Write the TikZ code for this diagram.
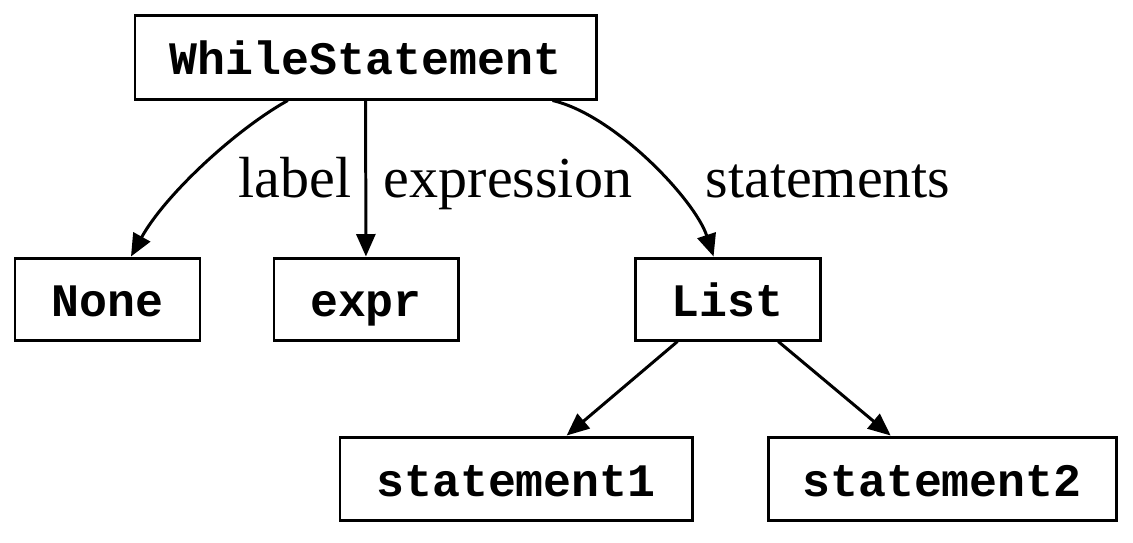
\documentclass[tikz,border=0pt]{standalone}
\usepackage{fontspec}
\setmainfont{Liberation Serif}
\setmonofont{Liberation Mono}
\usepackage{tikz}
\usetikzlibrary{arrows.meta}

\begin{document}
\begin{tikzpicture}[
  box/.style={draw, line width=1.7pt, minimum height=1.68cm, inner sep=0pt, align=center,
    text height=0.7cm, text depth=0pt,
    font=\fontsize{26.5}{30}\selectfont\ttfamily\bfseries},
  lbl/.style={anchor=base, inner sep=0pt, font=\fontsize{33}{38}\selectfont},
  arrow/.style={-{Triangle[length=0.45cm, width=0.38cm]}, line width=1.7pt}
]
  \useasboundingbox (0,0) rectangle (22.66,-10.84);

  \node[box, minimum width=9.22cm] (while) at (7.31,-1.14) {WhileStatement};
  \node[box, minimum width=3.70cm, minimum height=1.64cm] (none) at (2.15,-5.98) {None};
  \node[box, minimum width=3.68cm, minimum height=1.64cm] (expr) at (7.32,-5.98) {expr};
  \node[box, minimum width=3.70cm, minimum height=1.64cm] (list) at (14.55,-5.98) {List};
  \node[box, minimum width=7.04cm, minimum height=1.66cm] (stmt1) at (10.32,-9.57) {statement1};
  \node[box, minimum width=6.96cm, minimum height=1.66cm] (stmt2) at (18.84,-9.57) {statement2};

  \draw[arrow] (while) .. controls (4.7,-2.6) and (3.3,-3.9) .. (none);
  \draw[arrow] (while) -- (expr);
  \draw[arrow] (while) .. controls (12.3,-2.3) and (13.9,-4.0) .. (list);
  \draw[arrow] (list) -- (stmt1);
  \draw[arrow] (list) -- (stmt2);

  \node[lbl] (lab) at (5.9,-3.94) {label};
  \node[lbl] (exp) at (10.16,-3.94) {expression};
  \node[lbl] (sts) at (16.56,-3.94) {statements};
\end{tikzpicture}
\end{document}
